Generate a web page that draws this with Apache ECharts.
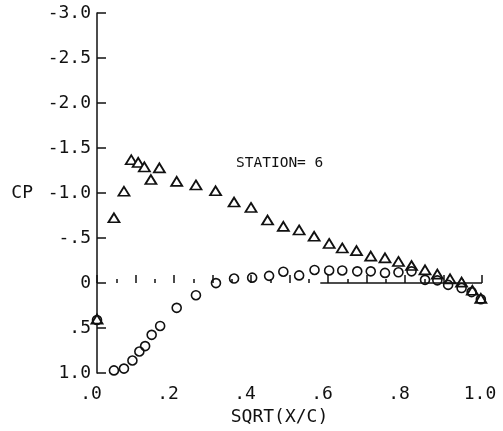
<!DOCTYPE html>
<html>
<head>
<meta charset="utf-8">
<script src="https://cdn.jsdelivr.net/npm/echarts@6/dist/echarts.min.js"></script>
<style>
html,body{margin:0;padding:0;background:#fff;}
#chart{width:503px;height:431px;}
</style>
</head>
<body>
<div id="chart"></div>
<script>
// Upper surface (triangles)
var upperX  = [0.000, 0.044, 0.070, 0.089, 0.107, 0.123, 0.140, 0.162, 0.207, 0.257, 0.308, 0.356, 0.400, 0.443, 0.484, 0.525, 0.564, 0.603, 0.637, 0.674, 0.711, 0.748, 0.783, 0.817, 0.852, 0.884, 0.917, 0.947, 0.975, 0.997];
var upperCp = [0.40, -0.725, -1.02, -1.37, -1.34, -1.29, -1.15, -1.28, -1.13, -1.09, -1.025, -0.90, -0.84, -0.70, -0.63, -0.59, -0.52, -0.44, -0.39, -0.36, -0.30, -0.28, -0.24, -0.195, -0.146, -0.10, -0.047, -0.01, 0.08, 0.17];
// Lower surface (circles)
var lowerX  = [0.000, 0.044, 0.070, 0.092, 0.110, 0.125, 0.142, 0.164, 0.207, 0.257, 0.309, 0.356, 0.403, 0.447, 0.484, 0.525, 0.565, 0.603, 0.637, 0.676, 0.711, 0.748, 0.783, 0.817, 0.852, 0.884, 0.912, 0.947, 0.973, 0.997];
var lowerCp = [0.41, 0.97, 0.95, 0.86, 0.76, 0.70, 0.575, 0.476, 0.275, 0.135, 0.0, -0.05, -0.06, -0.08, -0.126, -0.085, -0.146, -0.14, -0.14, -0.13, -0.13, -0.113, -0.12, -0.13, -0.036, -0.03, 0.02, 0.055, 0.10, 0.18];
// Tick labels
var xTickLabels = ['.0', '.2', '.4', '.6', '.8', '1.0'];
var yTickLabels = ['-3.0', '-2.5', '-2.0', '-1.5', '-1.0', '-.5', '0', '.5', '1.0'];
// Visible part of the zero reference line
var zeroLineX = [0.58, 1.0];
var zeroLineCp = [0, 0];

var FONT = 'DejaVu Sans Mono';
var INK = '#111';

function pairs(xs, ys) { return xs.map(function (x, i) { return [x, ys[i]]; }); }

var chart = echarts.init(document.getElementById('chart'), null, {renderer: 'canvas'});
chart.setOption({
  animation: false,
  backgroundColor: '#fff',
  title: {
    text: 'STATION= 6', left: 231, top: 151,
    textStyle: {fontFamily: FONT, fontSize: 14.5, fontWeight: 'normal', color: INK}
  },
  grid: {left: 97, right: 21, top: 13, bottom: 54, containLabel: false},
  xAxis: [{
    type: 'value', min: 0, max: 1, interval: 0.1, position: 'top',
    axisLine: {show: true, onZero: true, lineStyle: {opacity: 0}},
    axisTick: {show: true, inside: false, length: 8, lineStyle: {color: INK, width: 1.5}},
    minorTick: {show: true, splitNumber: 2, length: 4, lineStyle: {color: INK, width: 1.5}},
    axisLabel: {show: false}, splitLine: {show: false}
  }, {
    type: 'value', min: 0, max: 1, interval: 0.2, position: 'bottom',
    axisLine: {show: false, onZero: false}, axisTick: {show: false}, splitLine: {show: false},
    axisLabel: {
      margin: 12, fontFamily: FONT, fontSize: 18, color: INK,
      formatter: function (v) {
        var s = xTickLabels[Math.round(v / 0.2)];
        return s.length > 2 ? '{w|' + s + '}' : '{n|' + s + '}';
      },
      rich: {
        n: {fontFamily: FONT, fontSize: 18, color: INK, padding: [0, 12, 0, 0]},
        w: {fontFamily: FONT, fontSize: 18, color: INK, padding: [0, 4, 0, 0]}
      }
    },
    name: 'SQRT(X/C)', nameLocation: 'middle', nameGap: 30,
    nameTextStyle: {fontFamily: FONT, fontSize: 18, color: INK, padding: [0, 20, 0, 0]}
  }],
  yAxis: {
    type: 'value', min: -3, max: 1, interval: 0.5, inverse: true,
    axisLine: {show: true, onZero: false, lineStyle: {color: INK, width: 1.5}},
    axisTick: {show: true, inside: true, length: 9, lineStyle: {color: INK, width: 1.5}},
    splitLine: {show: false},
    axisLabel: {
      margin: 6, fontFamily: FONT, fontSize: 18, color: INK, padding: [6, 0, 0, 0],
      formatter: function (v) { return yTickLabels[Math.round((v + 3) / 0.5)]; }
    },
    name: 'CP', nameLocation: 'middle', nameGap: 64, nameRotate: 0,
    nameTextStyle: {fontFamily: FONT, fontSize: 18, color: INK, padding: [6, 0, 0, 0]}
  },
  series: [{
    type: 'line', xAxisIndex: 0, data: pairs(zeroLineX, zeroLineCp),
    symbol: 'none', silent: true, lineStyle: {color: INK, width: 1.5}
  }, {
    name: 'upper', type: 'scatter', xAxisIndex: 0, data: pairs(upperX, upperCp),
    symbol: 'triangle', symbolSize: [11, 9],
    itemStyle: {color: '#fff', borderColor: INK, borderWidth: 1.8, opacity: 1}
  }, {
    name: 'lower', type: 'scatter', xAxisIndex: 0, data: pairs(lowerX, lowerCp),
    symbol: 'circle', symbolSize: 9,
    itemStyle: {color: 'rgba(0,0,0,0)', borderColor: INK, borderWidth: 1.6, opacity: 1}
  }]
});
</script>
</body>
</html>
